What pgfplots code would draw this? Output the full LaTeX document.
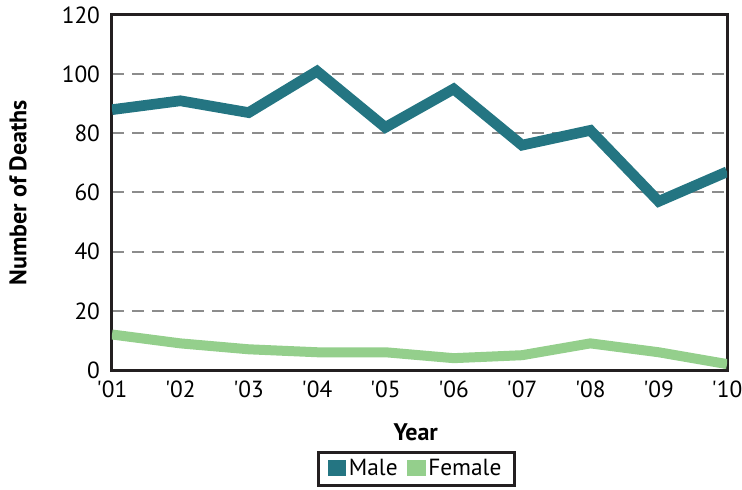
\documentclass[border=0pt]{standalone}
\usepackage{fontspec}
\setmainfont{PT Sans}
\usepackage{pgfplots}
\pgfplotsset{compat=1.18}
\definecolor{male}{HTML}{247582}
\definecolor{female}{HTML}{94CF8C}
\definecolor{frame}{HTML}{231F20}
\begin{document}
\fontsize{17.5pt}{21pt}\selectfont
\begin{tikzpicture}
\path[use as bounding box] (-84pt,-89.25pt) rectangle (472.5pt,277.5pt);
\begin{axis}[
  at={(0pt,0pt)}, anchor=south west,
  scale only axis,
  width=461.25pt, height=266.25pt,
  xmin=0, xmax=9, ymin=0, ymax=120,
  xtick={0,...,9},
  xticklabels={\textquotesingle01,\textquotesingle02,\textquotesingle03,\textquotesingle04,\textquotesingle05,\textquotesingle06,\textquotesingle07,\textquotesingle08,\textquotesingle09,\textquotesingle10},
  ytick={0,20,...,120},
  /pgf/number format/assume math mode=true,
  tick style={draw=none},
  ymajorgrids,
  grid style={draw=gray!90, line width=1.5pt, dash pattern=on 9pt off 6pt},
  axis line style={draw=frame, line width=2.25pt},
  ticklabel style={font=\fontsize{17.5pt}{21pt}\selectfont},
  yticklabel style={xshift=-3pt},
  xticklabel style={yshift=-2pt},
  xlabel={\textbf{Year}},
  ylabel={\textbf{Number of Deaths}},
  xlabel style={at={(axis description cs:0.494,-0.175)}, anchor=center, font=\fontsize{18pt}{21pt}\selectfont},
  ylabel style={at={(axis description cs:-0.153,0.5)}, anchor=center, font=\fontsize{18pt}{21pt}\selectfont},
  legend style={at={(0.494,-0.279)}, anchor=center, legend columns=2,
    draw=none, inner xsep=4pt, inner ysep=3pt,
    font=\fontsize{17.5pt}{21pt}\selectfont,
    /tikz/every even column/.append style={column sep=5pt}},
  legend image code/.code={\fill[#1, draw=none] (0pt,-5.5pt) rectangle (14pt,6.5pt);},
  clip=true,
]
\addplot[male, line width=8pt, line join=miter] coordinates {
 (0,88) (1,91) (2,87) (3,101) (4,82) (5,95) (6,76) (7,81) (8,57) (9,67)};
\addlegendentry{Male}
\addplot[female, line width=7.5pt] coordinates {
 (0,12) (1,9) (2,7) (3,6) (4,6) (5,4) (6,5) (7,9) (8,6) (9,2)};
\addlegendentry{Female}
\end{axis}
\draw[frame, line width=2.25pt] (154.5pt,-86.5pt) rectangle (301.5pt,-61.5pt);
\end{tikzpicture}
\end{document}
